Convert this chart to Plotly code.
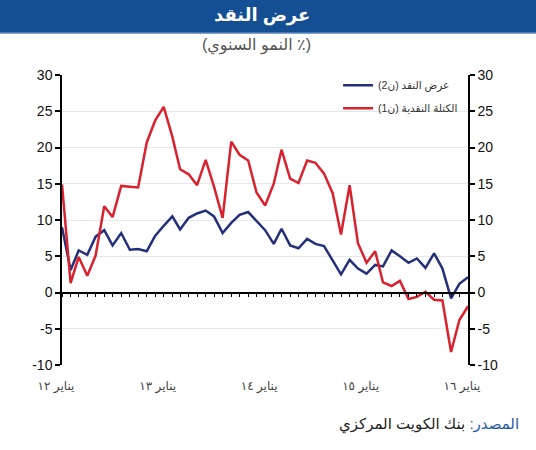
"""Money supply growth chart (Kuwait), Arabic labels"""

import pandas as pd
import plotly.graph_objects as go

# monthly, Jan 2012 .. Jan 2016
months = pd.date_range("2012-01-01", "2016-01-01", freq="MS")

m2_growth = [9.0, 3.1, 5.8, 5.2, 7.7, 8.6, 6.5, 8.2, 5.9, 6.0, 5.7,
             7.8, 9.2, 10.5, 8.7, 10.3, 10.9, 11.3, 10.5, 8.2, 9.6, 10.7, 11.1, 9.8,
             8.6, 6.7, 8.8, 6.5, 6.1, 7.4, 6.7, 6.4, 4.4, 2.5, 4.5, 3.3,
             2.6, 3.8, 3.6, 5.8, 5.0, 4.1, 4.7, 3.4, 5.4, 3.3, -0.8, 1.2, 2.1]

m1_growth = [14.9, 1.3, 4.9, 2.3, 5.1, 11.9, 10.4, 14.7, 14.6, 14.5, 20.7,
             23.7, 25.6, 21.5, 17.0, 16.3, 14.8, 18.3, 14.6, 10.3, 20.8, 19.0, 18.2, 13.8,
             12.0, 15.0, 19.7, 15.7, 15.1, 18.2, 17.9, 16.4, 13.7, 8.0, 14.8, 6.8,
             4.1, 5.7, 1.4, 0.9, 1.6, -0.9, -0.6, 0.1, -1.0, -1.1, -8.2, -3.8, -1.9]

year_ticks = ["2012-01-01", "2013-01-01", "2014-01-01", "2015-01-01", "2016-01-01"]
year_labels = ["يناير ١٢", "يناير ١٣", "يناير ١٤", "يناير ١٥", "يناير ١٦"]

y_ticks = [-10, -5, 0, 5, 10, 15, 20, 25, 30]

RLM = "\u200f"
BLUE = "#24307a"
RED = "#d8232f"
FONT = "Liberation Sans, Arial, DejaVu Sans, sans-serif"

W, H = 536, 450
L, R, T, B = 62, 68, 75, 85
PW, PH = W - L - R, H - T - B


def px_x(x):
    return (x - L) / PW


def px_y(y):
    return (H - B - y) / PH


fig = go.Figure()
fig.add_trace(go.Scatter(x=months, y=m2_growth, mode="lines", name=RLM + "عرض النقد (ن2)" + RLM,
                         legendgroup="m2", line=dict(color=BLUE, width=2.5), hoverinfo="skip"))
fig.add_trace(go.Scatter(x=months, y=m1_growth, mode="lines", name=RLM + "الكتلة النقدية (ن1)" + RLM,
                         legendgroup="m1", line=dict(color=RED, width=2.5), hoverinfo="skip"))
# carriers for the extra axes (zero line ticks, right y axis)
fig.add_trace(go.Scatter(x=months, y=m2_growth, mode="none", xaxis="x2", showlegend=False, hoverinfo="skip"))
fig.add_trace(go.Scatter(x=months, y=m2_growth, mode="none", yaxis="y2", showlegend=False, hoverinfo="skip"))

yax = dict(range=[-10, 30], tickvals=y_ticks, ticktext=[str(v) for v in y_ticks],
           showline=True, linecolor="black", linewidth=1.5, ticks="outside", ticklen=5,
           tickcolor="black", tickwidth=1.5, zeroline=False,
           tickfont=dict(size=14, color="#111", family=FONT))

fig.update_layout(
    width=W, height=H,
    margin=dict(l=L, r=R, t=T, b=B),
    paper_bgcolor="white", plot_bgcolor="white",
    font=dict(family=FONT, color="#333"),
    xaxis=dict(range=["2012-01-01", "2016-01-01"], tickvals=year_ticks, ticktext=year_labels,
               showline=False, showgrid=False, zeroline=False, ticks="",
               ticklabelstandoff=12, ticklabelshift=-6,
               tickfont=dict(size=12, color="#444")),
    xaxis2=dict(range=["2012-01-01", "2016-01-01"], overlaying="x", anchor="free", position=0.25,
                showline=True, linecolor="black", linewidth=1.5, ticks="outside", ticklen=4,
                tickcolor="black", dtick="M1", tick0="2012-01-01", showticklabels=False,
                showgrid=False, zeroline=False),
    yaxis=dict(showgrid=True, gridcolor="#e8e8e8", gridwidth=1, **yax),
    yaxis2=dict(overlaying="y", side="right", showgrid=False, **yax),
    legend=dict(x=0.68, y=1.015, xanchor="left", yanchor="top", bgcolor="rgba(0,0,0,0)",
                font=dict(size=10.5, color="#333"), tracegroupgap=4, itemwidth=30),
    showlegend=True,
)

# header band
fig.add_shape(type="rect", xref="paper", yref="paper",
              x0=px_x(0), x1=px_x(W), y0=px_y(33), y1=px_y(0),
              fillcolor="#144e93", line_width=0, layer="below")
fig.add_shape(type="line", xref="paper", yref="paper",
              x0=px_x(0), x1=px_x(W), y0=px_y(33), y1=px_y(33),
              line=dict(color="#5b86c0", width=1.5))

fig.add_annotation(text=RLM + "<b>عرض النقد</b>" + RLM, xref="paper", yref="paper",
                   x=px_x(262), y=px_y(16), xanchor="center", yanchor="middle", showarrow=False,
                   font=dict(size=18, color="white"))
fig.add_annotation(text=RLM + "(٪ النمو السنوي)" + RLM, xref="paper", yref="paper",
                   x=px_x(256), y=px_y(45), xanchor="center", yanchor="middle", showarrow=False,
                   font=dict(size=16, color="#555"))
fig.add_annotation(text=RLM + "<span style='color:#1f5aa6'>المصدر:</span> بنك الكويت المركزي" + RLM,
                   xref="paper", yref="paper", x=px_x(521), y=px_y(424),
                   xanchor="right", yanchor="middle", showarrow=False,
                   font=dict(size=15, color="#222"))

fig.write_html("out.html", config={"displayModeBar": False},
               post_script="document.body.style.margin='0';")
